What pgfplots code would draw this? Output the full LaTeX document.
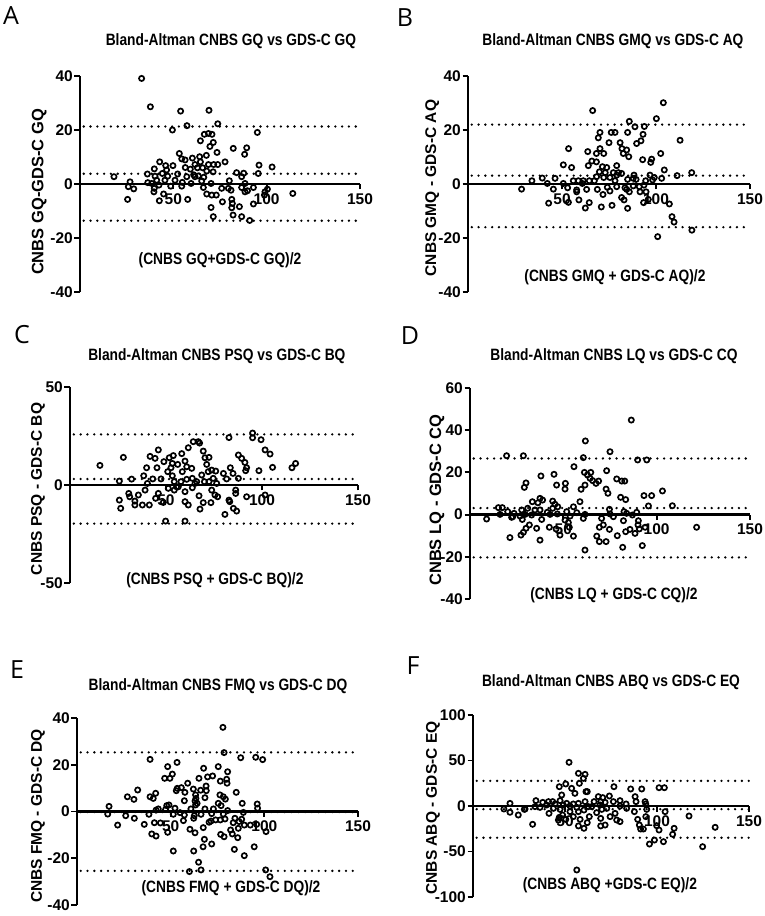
\documentclass[border=0pt]{standalone}
\usepackage{fontspec}
\setmainfont{Liberation Sans}
\newfontfamily\condfont[FakeStretch=0.84]{Liberation Sans}
\newfontfamily\panelfont{Open Sans}
\usepackage{pgfplots}
\pgfplotsset{compat=1.18}

\newcommand{\fs}[1]{\fontsize{#1}{#1}\selectfont}

\pgfplotsset{
  ba/.style={
    scale only axis,
    anchor=south west,
    xmin=0, xmax=150,
    xtick={50,100,150},
    axis x line*=middle,
    axis y line*=left,
    axis line style={line width=2.4pt},
    tick style={black, line width=1.9pt},
    major tick length=5.5pt,
    tick align=outside,
    hide obscured x ticks=false,
    hide obscured y ticks=false,
    clip=false,
    /pgf/number format/assume math mode=true,
    tick label style={font=\fs{15.5}\bfseries, inner sep=1.5pt},
    xticklabel style={yshift=-2pt},
    title style={font=\condfont\fs{16.4}\bfseries, anchor=center},
    xlabel style={font=\condfont\fs{16.4}\bfseries, anchor=center},
    ylabel style={font=\fs{16}\bfseries, anchor=center},
  },
  pts/.style={only marks, mark=o, mark size=2.6pt, mark options={line width=1.7pt, black}},
  loa/.style={black, line width=2.6pt, line cap=round, dash pattern=on 0pt off 6.8pt},
}

\begin{document}
\begin{tikzpicture}
\path[use as bounding box] (0pt,0pt) rectangle (764pt,916pt);

% ---------- A ----------
\node[font=\panelfont\fs{25}] at (11pt,900pt) {A};
\begin{axis}[ba, at={(80pt,624pt)}, width=280pt, height=216pt,
  ymin=-40, ymax=40, ytick={-40,-20,0,20,40},
  title={Bland-Altman CNBS GQ vs GDS-C GQ},
  title style={at={(axis description cs:0.539,1.134)}},
  xlabel={(CNBS GQ+GDS-C GQ)/2},
  xlabel style={at={(axis description cs:0.5,0.148)}},
  ylabel={CNBS GQ-GDS-C GQ},
  ylabel style={font=\fs{16.5}\bfseries, at={(axis description cs:-0.146,0.463)}}]
\addplot[loa] coordinates {(2,21.3) (150,21.3)};
\addplot[loa] coordinates {(2,3.8) (150,3.8)};
\addplot[loa] coordinates {(2,-13.6) (150,-13.6)};
\addplot[pts] coordinates {
(33.0,39.1)(37.7,28.6)(53.9,27.0)(69.1,27.3)(57.3,21.6)(73.8,22.3)(49.5,20.0)(95.0,19.1)
(66.6,18.4)(68.8,18.7)(70.7,18.4)(64.5,16.0)(71.4,15.4)(69.6,13.9)(82.1,13.2)(89.3,13.4)
(88.2,11.0)(73.4,11.7)(53.2,11.3)(54.5,9.3)(56.3,8.9)(60.2,9.6)(64.1,10.1)(67.7,10.6)
(42.7,8.2)(77.7,8.2)(64.5,8.2)(68.8,7.2)(71.6,7.2)(73.8,7.2)(95.9,7.0)(102.9,6.3)
(45.9,6.8)(49.8,6.8)(39.8,5.6)(56.4,6.1)(59.1,5.5)(61.6,7.2)(62.9,6.0)(65.7,6.0)
(67.9,4.8)(71.3,4.5)(36.1,3.7)(40.2,2.9)(44.1,3.9)(47.0,2.9)(52.3,3.7)(57.2,2.7)
(60.9,3.4)(83.9,4.2)(87.7,4.0)(86.6,2.7)(95.5,3.9)(18.2,2.7)(26.8,0.8)(36.3,0.5)
(41.1,1.4)(45.5,1.4)(50.9,1.4)(54.8,0.6)(59.5,0.2)(65.2,1.1)(70.2,0.2)(80.0,1.2)
(88.4,0.2)(25.9,-1.0)(28.8,-1.8)(39.8,-1.6)(48.6,-0.8)(54.5,-0.8)(66.1,-1.3)(75.9,-1.6)
(79.5,-1.6)(80.9,-2.3)(86.6,-1.3)(92.9,-1.3)(100.4,-1.9)(39.6,-2.9)(44.8,-3.7)(67.9,-3.7)
(70.6,-4.1)(73.0,-4.1)(88.4,-2.9)(89.7,-2.5)(99.1,-2.9)(98.8,-4.1)(114.0,-3.5)(25.5,-5.7)
(42.5,-6.2)(57.7,-5.7)(76.3,-6.6)(81.3,-5.7)(81.6,-7.2)(92.9,-7.4)(70.2,-8.7)(81.3,-8.8)
(85.4,-8.4)(82.0,-11.5)(71.4,-12.1)(86.6,-12.1)(90.9,-13.5)(38.4,0.2)(42.3,-0.4)(46.4,5.2)
(61.6,2.7)(63.4,3.0)(66.3,2.5)
};
\end{axis}

% ---------- B ----------
\node[font=\panelfont\fs{25}] at (405pt,898pt) {B};
\begin{axis}[ba, at={(468pt,624pt)}, width=282pt, height=216pt,
  ymin=-40, ymax=40, ytick={-40,-20,0,20,40},
  title={Bland-Altman CNBS GMQ vs GDS-C AQ},
  title style={at={(axis description cs:0.514,1.134)}},
  xlabel={(CNBS GMQ + GDS-C AQ)/2},
  xlabel style={at={(axis description cs:0.521,0.069)}},
  ylabel={CNBS GMQ - GDS-C AQ},
  ylabel style={font=\fs{15.5}\bfseries, at={(axis description cs:-0.127,0.481)}}]
\addplot[loa] coordinates {(2,22.0) (150,22.0)};
\addplot[loa] coordinates {(2,3.1) (150,3.1)};
\addplot[loa] coordinates {(2,-16.0) (150,-16.0)};
\addplot[pts] coordinates {
(103.9,30.1)(66.3,27.2)(100.2,24.2)(85.8,23.2)(88.8,21.2)(93.8,21.3)(84.9,19.1)(76.2,19.1)
(78.2,19.1)(70.2,19.1)(69.3,17.1)(93.1,18.4)(92.0,16.0)(89.7,15.0)(112.8,16.2)(75.0,15.3)
(80.9,15.3)(81.9,13.1)(70.2,13.1)(84.4,12.6)(53.5,13.1)(63.7,12.0)(68.3,11.3)(72.2,11.3)
(82.6,11.3)(85.5,10.1)(102.5,11.3)(92.9,9.0)(97.7,9.2)(65.9,8.5)(68.3,8.2)(64.0,6.8)
(71.5,6.4)(73.8,6.1)(79.1,6.8)(50.7,7.1)(55.1,6.1)(97.2,8.0)(104.4,5.2)(69.9,4.5)
(73.0,4.2)(77.3,4.2)(80.0,4.2)(81.7,3.9)(88.3,3.3)(96.8,3.3)(99.1,2.4)(111.2,3.1)
(119.0,4.2)(68.4,2.7)(72.2,2.4)(75.5,2.4)(34.0,1.2)(39.5,2.2)(46.3,2.1)(42.2,0.2)
(56.0,1.2)(58.7,1.2)(61.3,1.2)(64.5,1.2)(67.2,1.2)(78.2,1.2)(84.9,1.7)(89.4,1.7)
(94.5,1.2)(98.2,1.5)(103.0,2.1)(28.5,-1.9)(45.4,-1.9)(53.0,-1.4)(57.8,-2.2)(63.1,-2.0)
(68.8,-2.0)(74.1,-1.2)(79.1,-1.0)(83.5,-1.4)(87.9,-0.7)(91.1,-1.0)(93.6,-0.4)(91.5,-2.9)
(94.7,-2.9)(84.4,-2.0)(85.8,-2.9)(57.8,-2.9)(71.8,-3.9)(75.5,-2.6)(42.9,-7.1)(59.0,-5.9)
(64.5,-6.9)(62.4,-8.9)(70.9,-8.5)(76.6,-7.9)(81.7,-5.0)(83.0,-5.9)(84.9,-9.0)(93.4,-6.9)
(95.9,-5.7)(107.1,-7.4)(108.5,-12.1)(109.6,-14.1)(100.9,-19.5)(119.1,-17.1)(53.4,-6.8)(60.8,0.2)
(79.1,3.3)(87.9,2.1)(50.7,0.2)
};
\end{axis}

% ---------- C ----------
\node[font=\panelfont\fs{25}] at (22pt,581pt) {C};
\begin{axis}[ba, at={(70pt,333pt)}, width=288pt, height=196pt,
  ymin=-50, ymax=50, ytick={-50,0,50},
  title={Bland-Altman CNBS PSQ vs GDS-C BQ},
  title style={at={(axis description cs:0.510,1.128)}},
  xlabel={(CNBS PSQ + GDS-C BQ)/2},
  xlabel style={at={(axis description cs:0.503,0.015)}},
  ylabel={CNBS PSQ - GDS-C BQ},
  ylabel style={font=\fs{15.5}\bfseries, at={(axis description cs:-0.111,0.48)}}]
\addplot[loa] coordinates {(2,25.8) (150,25.8)};
\addplot[loa] coordinates {(2,3.05) (150,3.05)};
\addplot[loa] coordinates {(2,-19.7) (150,-19.7)};
\addplot[pts] coordinates {
(15.6,10.0)(27.8,14.1)(25.7,2.0)(32.1,3.0)(25.7,-7.7)(26.4,-11.9)(30.6,-4.3)(31.1,-6.0)
(33.8,-8.2)(33.8,-10.2)(35.6,-5.1)(37.7,-10.2)(41.3,-10.2)(39.1,-2.6)(40.3,0.8)(38.4,4.7)
(39.9,8.8)(41.7,14.6)(44.3,13.6)(46.0,17.9)(43.1,3.1)(45.3,8.8)(48.9,11.9)(47.4,3.1)
(44.6,-6.8)(46.0,-4.3)(48.6,-8.9)(49.8,-18.4)(51.7,13.9)(53.8,15.0)(52.6,8.8)(53.3,4.7)
(54.3,1.7)(51.2,-1.7)(56.1,10.5)(58.2,16.0)(58.5,6.8)(59.9,12.2)(60.8,9.3)(61.6,19.0)
(64.2,22.1)(66.8,22.1)(67.5,21.4)(59.9,-3.4)(59.9,-8.5)(61.6,-10.2)(59.9,-18.4)(56.4,-0.9)
(57.8,1.7)(63.4,8.5)(63.7,3.4)(65.1,0.8)(67.2,-5.5)(69.4,-9.0)(69.4,17.3)(70.3,13.9)
(72.4,14.1)(71.2,10.5)(72.0,6.8)(68.6,5.1)(70.0,1.7)(72.4,1.7)(73.8,7.6)(75.9,7.1)
(74.6,3.4)(76.4,0.8)(73.8,-2.6)(75.5,-5.1)(76.9,-6.0)(73.4,-9.0)(67.7,-12.3)(79.9,5.9)
(81.6,3.1)(82.8,24.2)(83.5,8.8)(84.9,5.9)(87.7,15.3)(89.4,13.6)(91.1,11.5)(92.0,8.8)
(91.5,7.3)(87.7,3.4)(86.3,-2.6)(86.3,-4.3)(82.8,-7.7)(83.2,-8.5)(80.7,-15.0)(85.1,-11.9)
(86.8,-13.3)(92.0,-6.0)(95.1,26.5)(95.1,24.1)(99.5,23.1)(98.4,7.3)(101.6,17.9)(104.2,15.8)
(105.5,9.0)(101.6,-5.1)(115.6,8.8)(117.5,11.0)(54.3,-2.6)(55.5,-0.9)(63.7,-1.4)(66.0,1.7)
(60.8,2.9)(53.3,11.0)(50.9,6.8)
};
\end{axis}

% ---------- D ----------
\node[font=\panelfont\fs{25}] at (410pt,580pt) {D};
\begin{axis}[ba, at={(470pt,317pt)}, width=280pt, height=211pt,
  ymin=-40, ymax=60, ytick={-40,-20,0,20,40,60},
  title={Bland-Altman CNBS LQ vs GDS-C CQ},
  title style={at={(axis description cs:0.514,1.123)}},
  xlabel={(CNBS LQ + GDS-C CQ)/2},
  xlabel style={at={(axis description cs:0.514,0.019)}},
  ylabel={CNBS LQ - GDS-C CQ},
  ylabel style={font=\fs{16.5}\bfseries, at={(axis description cs:-0.118,0.469)}}]
\addplot[loa] coordinates {(2,26.6) (150,26.6)};
\addplot[loa] coordinates {(2,3.1) (150,3.1)};
\addplot[loa] coordinates {(2,-20.3) (150,-20.3)};
\addplot[pts] coordinates {
(86.4,44.8)(61.8,34.9)(75.0,29.8)(19.6,27.9)(28.6,27.9)(60.7,27.0)(89.8,25.9)(94.7,25.9)
(55.7,22.7)(61.3,20.0)(64.7,20.0)(62.9,18.8)(73.2,20.8)(45.0,19.1)(38.0,18.3)(64.3,17.2)
(65.7,16.1)(68.9,15.9)(67.5,14.8)(78.6,16.9)(81.3,15.9)(82.9,15.9)(30.0,15.0)(29.1,12.9)
(46.4,14.0)(51.1,14.8)(50.9,12.1)(59.5,12.0)(61.6,14.0)(72.9,12.1)(73.9,10.1)(80.7,8.2)
(83.4,7.1)(93.2,9.0)(97.3,9.0)(103.1,11.2)(33.4,6.1)(37.5,7.7)(38.9,6.9)(36.4,5.6)
(44.3,6.4)(45.5,4.9)(47.0,3.7)(30.9,3.0)(34.8,2.2)(37.5,2.2)(41.4,1.1)(44.3,3.0)
(58.9,6.1)(55.4,3.7)(95.6,4.1)(108.4,4.2)(15.2,3.3)(17.3,3.3)(20.2,1.4)(23.6,0.6)
(27.7,2.2)(16.1,0.1)(22.9,-1.0)(26.8,-0.7)(29.5,0.1)(33.0,-0.2)(42.9,0.1)(46.8,0.3)
(51.8,1.4)(53.6,-0.7)(57.2,0.9)(61.6,0.1)(74.7,2.5)(75.0,0.3)(82.5,1.4)(83.9,0.6)
(89.3,1.1)(87.0,-0.2)(8.9,-2.1)(22.3,-1.3)(28.0,-2.3)(38.4,-2.3)(50.9,-2.6)(52.7,-3.8)
(60.7,-1.8)(70.5,-1.8)(76.8,-1.0)(82.2,-2.9)(90.2,-2.9)(31.8,-4.9)(35.7,-6.5)(30.0,-6.5)
(28.6,-8.4)(27.3,-9.7)(42.5,-6.0)(46.1,-6.8)(48.2,-9.7)(53.2,-6.0)(55.4,-10.2)(21.4,-10.9)
(37.5,-12.1)(67.9,-10.2)(69.3,-6.0)(71.4,-4.9)(74.7,-7.0)(78.9,-10.0)(69.3,-12.8)(72.9,-12.8)
(81.8,-15.5)(83.4,-8.1)(85.7,-7.0)(88.4,-8.9)(90.7,-6.8)(93.8,-6.0)(92.3,-14.7)(61.6,-16.8)
(121.4,-6.0)(90.0,-4.9)
};
\end{axis}

% ---------- E ----------
\node[font=\panelfont\fs{25}] at (17pt,246pt) {E};
\begin{axis}[ba, at={(77pt,11pt)}, width=281pt, height=187pt,
  ymin=-40, ymax=40, ytick={-40,-20,0,20,40},
  title={Bland-Altman CNBS FMQ vs GDS-C DQ},
  title style={at={(axis description cs:0.502,1.139)}},
  xlabel={(CNBS FMQ + GDS-C DQ)/2},
  xlabel style={at={(axis description cs:0.548,0.091)}},
  ylabel={CNBS FMQ - GDS-C DQ},
  ylabel style={font=\fs{15.5}\bfseries, at={(axis description cs:-0.139,0.476)}}]
\addplot[loa] coordinates {(2,25.3) (150,25.3)};
\addplot[loa] coordinates {(2,-0.2) (150,-0.2)};
\addplot[loa] coordinates {(2,-25.4) (150,-25.4)};
\addplot[pts] coordinates {
(77.9,36.0)(78.5,25.2)(39.0,22.3)(87.4,23.0)(95.4,23.2)(99.1,22.2)(53.4,21.0)(48.4,19.2)
(67.6,18.5)(75.4,19.2)(50.9,16.0)(46.8,14.2)(49.6,14.2)(69.7,14.8)(72.4,15.2)(80.4,17.0)
(65.1,14.2)(76.5,13.0)(79.9,13.8)(80.1,12.1)(59.1,12.1)(53.5,9.9)(55.7,10.2)(53.0,8.9)
(62.1,9.6)(66.0,9.1)(68.9,10.9)(69.0,8.9)(57.6,8.2)(32.4,9.2)(26.9,6.3)(30.4,5.2)
(39.0,6.3)(40.7,5.6)(42.0,7.8)(63.3,7.1)(68.3,5.9)(76.3,7.1)(78.1,6.3)(79.2,5.3)
(85.0,8.2)(57.3,4.6)(63.0,4.5)(64.1,3.5)(75.4,3.5)(76.9,2.5)(88.2,3.5)(96.2,3.2)
(96.4,1.4)(17.1,2.2)(16.4,-1.1)(42.2,0.6)(43.4,1.1)(47.9,2.5)(49.1,2.8)(47.3,0.9)
(52.3,1.4)(60.8,1.1)(68.3,1.1)(72.8,1.1)(80.4,0.4)(88.8,-0.4)(26.0,-1.8)(30.6,-2.9)
(38.4,-1.2)(51.4,-1.2)(55.0,-0.5)(57.3,-1.5)(62.6,-1.8)(66.2,-1.2)(71.9,-0.9)(78.1,-1.1)
(84.3,-2.9)(21.7,-5.8)(35.9,-5.5)(41.3,-4.8)(44.5,-4.9)(56.8,-3.9)(62.3,-2.9)(67.4,-6.9)
(70.5,-4.6)(71.5,-4.1)(74.0,-3.6)(76.5,-3.6)(79.0,-3.2)(83.4,-4.8)(86.5,-4.3)(87.9,-3.3)
(89.3,-5.8)(86.1,-7.2)(92.5,-5.8)(95.9,-5.5)(100.9,-8.6)(48.4,-8.9)(60.3,-7.6)(63.0,-9.1)
(82.0,-7.9)(82.9,-9.6)(85.8,-11.2)(39.9,-9.6)(42.2,-10.5)(76.7,-9.8)(78.5,-10.8)(68.0,-11.9)
(67.3,-15.1)(71.9,-13.9)(51.4,-16.9)(62.3,-16.9)(84.0,-16.2)(89.3,-18.9)(94.6,-15.1)(64.9,-21.7)
(66.2,-25.0)(60.0,-25.7)(100.7,-25.0)(103.0,-27.9)(63.3,2.8)(63.5,5.6)
};
\end{axis}

% ---------- F ----------
\node[font=\panelfont\fs{25}] at (413pt,250pt) {F};
\begin{axis}[ba, at={(473pt,19pt)}, width=276pt, height=182pt,
  ymin=-100, ymax=100, ytick={-100,-50,0,50,100},
  title={Bland-Altman CNBS ABQ vs GDS-C EQ},
  title style={at={(axis description cs:0.5,1.148)}},
  xlabel={(CNBS ABQ +GDS-C EQ)/2},
  xlabel style={at={(axis description cs:0.496,0.066)}},
  ylabel={CNBS ABQ - GDS-C EQ},
  ylabel style={font=\fs{15.5}\bfseries, at={(axis description cs:-0.145,0.489)}}]
\addplot[loa] coordinates {(2,27.6) (150,27.6)};
\addplot[loa] coordinates {(2,-3.5) (150,-3.5)};
\addplot[loa] coordinates {(2,-34.9) (150,-34.9)};
\addplot[pts] coordinates {
(52.2,48.0)(57.3,35.9)(60.9,34.8)(60.0,30.4)(57.8,24.9)(46.9,21.2)(50.4,24.2)(53.6,19.4)
(48.2,12.1)(55.4,13.9)(61.4,15.8)(62.1,15.8)(76.6,21.2)(85.7,18.7)(91.7,18.7)(101.1,20.1)
(104.0,20.1)(34.2,5.9)(37.9,4.0)(41.0,4.8)(43.3,4.8)(47.3,5.9)(20.1,2.9)(50.9,2.9)
(54.5,2.2)(57.3,2.9)(60.9,4.8)(68.1,10.3)(70.5,9.2)(74.1,11.0)(65.8,4.8)(69.4,4.8)
(71.8,4.0)(76.3,4.8)(79.9,5.9)(83.2,2.2)(88.1,10.3)(88.6,4.8)(93.5,4.8)(93.9,2.2)
(16.8,-3.3)(20.1,-6.9)(24.6,-9.9)(28.3,-3.3)(33.7,-0.7)(36.4,-1.5)(41.3,-8.1)(43.7,-2.6)
(47.3,-3.7)(46.9,-12.5)(48.7,-9.9)(46.4,-15.4)(50.4,-14.7)(52.7,-6.2)(57.3,-6.2)(58.2,-14.7)
(57.3,-21.9)(60.3,-24.5)(63.2,-11.7)(62.1,-18.3)(67.2,-7.3)(69.4,-13.6)(69.4,-21.9)(71.8,-20.9)
(74.5,-11.7)(77.2,-8.1)(78.1,-15.4)(79.9,-17.2)(72.7,-2.6)(62.7,-0.7)(52.7,0.0)(40.0,1.1)
(32.4,-20.1)(27.9,-3.7)(87.7,-6.2)(89.5,-14.7)(90.4,-20.9)(91.1,-25.3)(92.6,-25.3)(93.9,-11.7)
(94.4,-3.7)(99.8,-21.6)(101.1,-26.4)(95.9,-41.8)(98.6,-37.4)(103.5,-39.2)(104.4,-6.2)(109.3,-24.5)
(108.5,-31.1)(117.4,-11.0)(124.8,-44.7)(131.6,-23.4)(56.4,-70.3)(79.9,0.0)(70.0,-3.7)(64.5,-0.7)
(69.0,1.1)(49.1,1.1)(44.6,2.2)(56.4,-1.5)(54.5,-11.7)(60.3,-4.4)(83.5,-2.6)
};
\end{axis}
\end{tikzpicture}
\end{document}
